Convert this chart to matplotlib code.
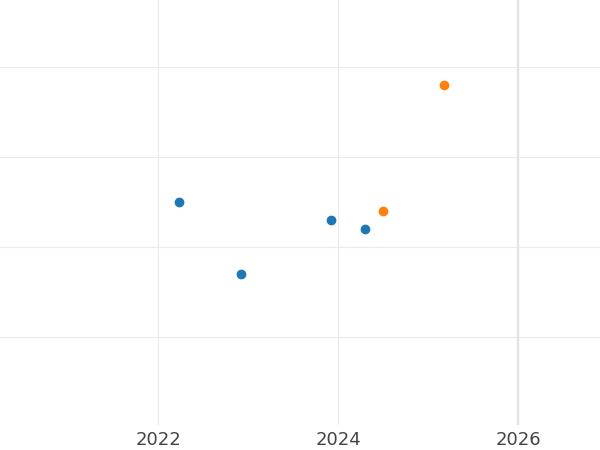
import matplotlib.pyplot as plt

blue_x = [2022.23, 2022.92, 2023.92, 2024.30]
blue_y = [2.5, 1.7, 2.3, 2.2]
orange_x = [2024.50, 2025.18]
orange_y = [2.4, 3.8]

fig = plt.figure(figsize=(6, 4.5), dpi=100)
ax = fig.add_axes([0, 0.055, 1, 0.945])
ax.set_xlim(2020.244, 2026.91)
ax.set_ylim(0.02, 4.744)
ax.set_xticks([2022, 2024, 2026])
ax.set_yticks([1, 2, 3, 4])
ax.set_yticklabels([])
ax.grid(True, color='#ebebeb', linewidth=0.8)
ax.axvline(2026, color='#e3e3e3', linewidth=1.6)
for s in ax.spines.values():
    s.set_visible(False)
ax.tick_params(length=0, labelsize=13, colors='#444444', pad=4)
ax.scatter(blue_x, blue_y, color='#1f77b4', s=36, zorder=3)
ax.scatter(orange_x, orange_y, color='#ff7f0e', s=36, zorder=3)
fig.savefig('out.png')
